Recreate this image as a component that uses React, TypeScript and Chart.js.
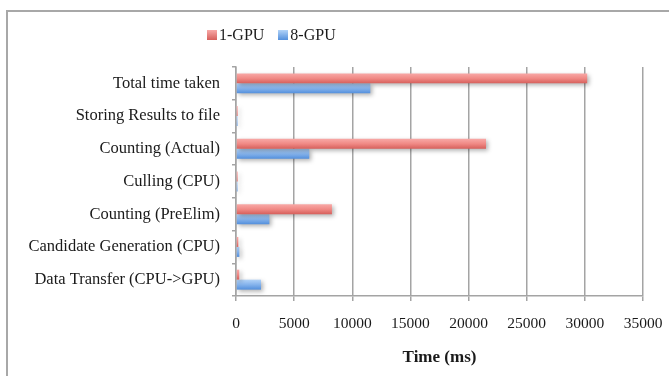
import React, { useEffect, useRef } from "react";
import { Chart, registerables } from "chart.js";

Chart.register(...registerables);

const categories = [
  "Total time taken",
  "Storing Results to file",
  "Counting (Actual)",
  "Culling (CPU)",
  "Counting (PreElim)",
  "Candidate Generation (CPU)",
  "Data Transfer (CPU->GPU)",
];
const seriesNames = ["1-GPU", "8-GPU"];
const gpu1 = [30200, 140, 21500, 140, 8250, 200, 280];
const gpu8 = [11550, 130, 6300, 130, 2870, 290, 2150];
const xTicks = [0, 5000, 10000, 15000, 20000, 25000, 30000, 35000];

const FONT = "'Liberation Serif', 'Times New Roman', serif";
const redStops = ["#f8a9a7", "#f08985", "#d65f5b"];
const blueStops = ["#b2d3f8", "#85b3ec", "#538fdc"];

function gradFill(stops: string[]) {
  return (ctx: any) => {
    const el = ctx.element;
    if (!el || typeof el.y !== "number" || !isFinite(el.y) || !el.height) return stops[1];
    const c = ctx.chart.ctx as CanvasRenderingContext2D;
    const g = c.createLinearGradient(0, el.y - el.height / 2, 0, el.y + el.height / 2);
    g.addColorStop(0, stops[0]);
    g.addColorStop(0.5, stops[1]);
    g.addColorStop(1, stops[2]);
    return g;
  };
}

const shadowPlugin = {
  id: "barShadow",
  beforeDatasetsDraw(chart: any) {
    const c = chart.ctx;
    c.save();
    c.shadowColor = "rgba(0,0,0,0.3)";
    c.shadowBlur = 4;
    c.shadowOffsetX = 2;
    c.shadowOffsetY = 2;
  },
  afterDatasetsDraw(chart: any) {
    chart.ctx.restore();
  },
};

const framePlugin = {
  id: "outerFrame",
  beforeDraw(chart: any) {
    const c = chart.ctx as CanvasRenderingContext2D;
    c.save();
    c.strokeStyle = "#a8a8a8";
    c.lineWidth = 2;
    c.beginPath();
    c.moveTo(7, chart.height + 5);
    c.lineTo(7, 11);
    c.lineTo(chart.width + 5, 11);
    c.stroke();
    c.restore();
  },
};

export default function App() {
  const ref = useRef<HTMLCanvasElement>(null);
  useEffect(() => {
    if (!ref.current) return;
    const chart = new Chart(ref.current, {
      type: "bar",
      data: {
        labels: categories,
        datasets: [
          { label: seriesNames[0], data: gpu1, backgroundColor: gradFill(redStops) as any, borderWidth: 0 },
          { label: seriesNames[1], data: gpu8, backgroundColor: gradFill(blueStops) as any, borderWidth: 0 },
        ],
      },
      options: {
        indexAxis: "y",
        responsive: false,
        animation: false,
        datasets: { bar: { categoryPercentage: 0.61, barPercentage: 1 } },
        layout: { padding: { top: 67, right: 26, bottom: 0, left: 0 } },
        plugins: { legend: { display: false }, tooltip: { enabled: false } },
        scales: {
          x: {
            min: 0,
            max: 35000,
            afterBuildTicks: (s: any) => {
              s.ticks = xTicks.map((v) => ({ value: v }));
            },
            afterFit: (s: any) => {
              s.height = 80;
              s.paddingLeft = 0;
              s.paddingRight = 0;
            },
            grid: { color: "#a4a4a4", lineWidth: 1.5, tickLength: 5, drawTicks: true },
            border: { color: "#a4a4a4", width: 1.5 },
            ticks: {
              font: { family: FONT, size: 15.5 },
              color: "#1a1a1a",
              padding: 14,
              maxRotation: 0,
              autoSkip: false,
              callback: (v: any) => String(v),
            },
            title: {
              display: true,
              text: "Time (ms)",
              font: { family: FONT, size: 17, weight: "bold" },
              color: "#1a1a1a",
              padding: { top: 0, bottom: 8 },
            },
          },
          y: {
            afterFit: (s: any) => {
              s.width = 236;
              s.paddingTop = 0;
              s.paddingBottom = 0;
            },
            grid: { drawOnChartArea: false, drawTicks: true, tickLength: 4, color: "#a4a4a4", lineWidth: 1.5, offset: true },
            border: { color: "#a4a4a4", width: 1.5 },
            ticks: { font: { family: FONT, size: 16.5 }, color: "#1a1a1a", padding: 12, autoSkip: false },
          },
        },
      },
      plugins: [framePlugin, shadowPlugin],
    });
    chart.update();
    return () => chart.destroy();
  }, []);

  const legendBox = (stops: string[]) => ({
    display: "inline-block",
    width: 10,
    height: 10,
    background: `linear-gradient(${stops[0]}, ${stops[2]})`,
    marginRight: 2,
  });

  return (
    <div style={{ position: "absolute", left: 0, top: 0, width: 669, height: 376, overflow: "hidden", background: "#fff" }}>
      <canvas ref={ref} width={669} height={376} style={{ position: "absolute", left: 0, top: 0 }} />
      <div
        style={{
          position: "absolute",
          left: 207,
          top: 25,
          display: "flex",
          alignItems: "center",
          fontFamily: FONT,
          fontSize: 16,
          lineHeight: "20px",
          color: "#1a1a1a",
          whiteSpace: "nowrap",
        }}
      >
        <span style={legendBox(redStops)} />
        <span style={{ marginRight: 14 }}>{seriesNames[0]}</span>
        <span style={legendBox(blueStops)} />
        <span>{seriesNames[1]}</span>
      </div>
    </div>
  );
}
